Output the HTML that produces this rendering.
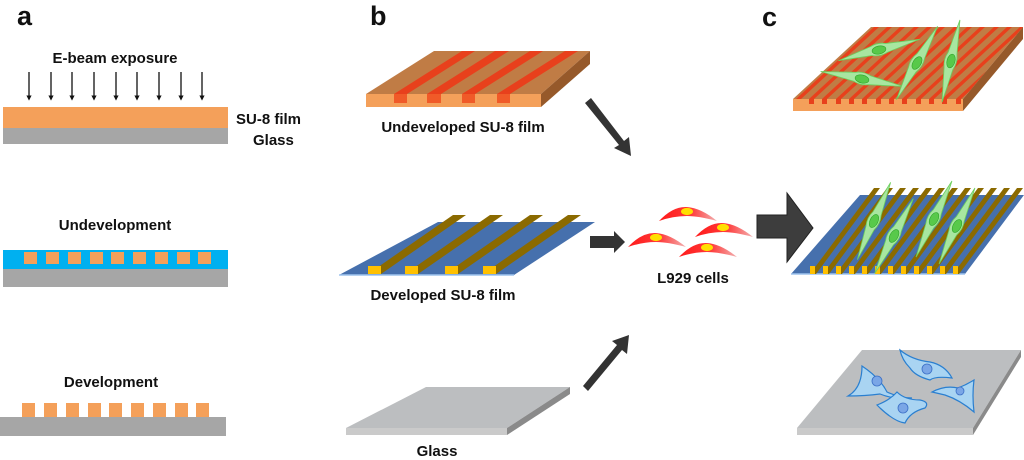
<!DOCTYPE html>
<html><head><meta charset="utf-8"><style>
html,body{margin:0;padding:0;background:#fff;}
svg{display:block;}
text{font-family:"Liberation Sans",Arial,sans-serif;font-weight:bold;fill:#111;}
</style></head><body>
<svg width="1024" height="460" viewBox="0 0 1024 460" xmlns="http://www.w3.org/2000/svg">
<defs>
<linearGradient id="rc" x1="0" x2="1" y1="0" y2="0">
<stop offset="0" stop-color="#ff1a1a"/><stop offset="0.55" stop-color="#ff3a3a"/><stop offset="1" stop-color="#f2b0b0"/>
</linearGradient>
<marker id="ah" markerWidth="4" markerHeight="4" refX="2" refY="2" orient="auto" markerUnits="strokeWidth"><path d="M0,0 L4,2 L0,4 Z" fill="#111"/></marker>
<clipPath id="ctop"><polygon points="793,99 963,99 1023,27 871,27"/></clipPath>
<clipPath id="btop"><polygon points="366,94 541,94 590,51 434,51"/></clipPath>
<g id="gcell">
<path d="M-42,2 L-8,-5 Q0,-8 8,-5 L42,-2 L8,4 Q0,7 -8,4 Z" fill="#a8e6a0" stroke="#6ccf5e" stroke-width="0.8"/>
<ellipse cx="0" cy="0" rx="7" ry="4" fill="#58c94a" stroke="#2fa52a" stroke-width="0.6"/>
</g>
<g id="rcell">
<path d="M-28,8 Q-14,-7 0,-6 Q14,-5 30,8 Q12,3 0,3 Q-14,3 -28,8 Z" fill="url(#rc)"/>
<ellipse cx="0" cy="-1.5" rx="6" ry="3.6" fill="#ffe000"/>
</g>
</defs>

<!-- Panel a -->
<text x="17" y="25" font-size="27">a</text>
<text x="115" y="63" font-size="15" text-anchor="middle">E-beam exposure</text>
<g stroke="#111" stroke-width="1.3" marker-end="url(#ah)">
<line x1="29" y1="72" x2="29" y2="98"/><line x1="51" y1="72" x2="51" y2="98"/><line x1="72" y1="72" x2="72" y2="98"/>
<line x1="94" y1="72" x2="94" y2="98"/><line x1="116" y1="72" x2="116" y2="98"/><line x1="137" y1="72" x2="137" y2="98"/>
<line x1="159" y1="72" x2="159" y2="98"/><line x1="181" y1="72" x2="181" y2="98"/><line x1="202" y1="72" x2="202" y2="98"/>
</g>
<rect x="3" y="107" width="225" height="21" fill="#f4a05a"/>
<rect x="3" y="128" width="225" height="16" fill="#a6a6a6"/>
<text x="236" y="124" font-size="15">SU-8 film</text>
<text x="253" y="145" font-size="15">Glass</text>

<text x="115" y="230" font-size="15" text-anchor="middle">Undevelopment</text>
<rect x="3" y="250" width="225" height="19" fill="#00b0f0"/>
<g fill="#f4a05a">
<rect x="24" y="252" width="13" height="12"/><rect x="46" y="252" width="13" height="12"/><rect x="68" y="252" width="13" height="12"/>
<rect x="90" y="252" width="13" height="12"/><rect x="111" y="252" width="13" height="12"/><rect x="133" y="252" width="13" height="12"/>
<rect x="155" y="252" width="13" height="12"/><rect x="177" y="252" width="13" height="12"/><rect x="198" y="252" width="13" height="12"/>
</g>
<rect x="3" y="269" width="225" height="18" fill="#a6a6a6"/>

<text x="111" y="387" font-size="15" text-anchor="middle">Development</text>
<g fill="#f4a05a">
<rect x="22" y="403" width="13" height="14"/><rect x="44" y="403" width="13" height="14"/><rect x="66" y="403" width="13" height="14"/>
<rect x="88" y="403" width="13" height="14"/><rect x="109" y="403" width="13" height="14"/><rect x="131" y="403" width="13" height="14"/>
<rect x="153" y="403" width="13" height="14"/><rect x="175" y="403" width="13" height="14"/><rect x="196" y="403" width="13" height="14"/>
</g>
<rect x="0" y="417" width="226" height="19" fill="#a6a6a6"/>

<!-- Panel b -->
<text x="370" y="25" font-size="27">b</text>
<polygon points="366,94 541,94 590,51 434,51" fill="#c07c45"/>
<g clip-path="url(#btop)" fill="#e8401c">
<polygon points="394,94 407,94 475,51 462,51"/>
<polygon points="427,94 441,94 509,51 495,51"/>
<polygon points="462,94 475,94 543,51 530,51"/>
<polygon points="497,94 510,94 578,51 565,51"/>
</g>
<rect x="366" y="94" width="175" height="13" fill="#f4a05a"/>
<g fill="#f05a28">
<rect x="394" y="94" width="13" height="9"/><rect x="427" y="94" width="14" height="9"/><rect x="462" y="94" width="13" height="9"/><rect x="497" y="94" width="13" height="9"/>
</g>
<polygon points="541,94 590,51 590,64 541,107" fill="#96592a"/>
<text x="463" y="132" font-size="15" text-anchor="middle">Undeveloped SU-8 film</text>

<polygon points="339,275 514,275 595,222 438,222" fill="#4670ad"/>
<line x1="339" y1="275" x2="514" y2="275" stroke="#9ec4ee" stroke-width="1.5"/>
<g fill="#8b6a00">
<polygon points="368,274 381,274 466,215 453,215"/>
<polygon points="405,274 418,274 503,215 490,215"/>
<polygon points="445,274 458,274 543,215 530,215"/>
<polygon points="483,274 496,274 581,215 568,215"/>
</g>
<g fill="#ffc000">
<rect x="368" y="266" width="13" height="8"/><rect x="405" y="266" width="13" height="8"/><rect x="445" y="266" width="13" height="8"/><rect x="483" y="266" width="13" height="8"/>
</g>
<text x="443" y="300" font-size="15" text-anchor="middle">Developed SU-8 film</text>

<polygon points="346,428 507,428 570,387 426,387" fill="#bcbec0"/>
<rect x="346" y="428" width="161" height="7" fill="#cacaca"/>
<polygon points="507,428 570,387 570,394 507,435" fill="#8a8a8a"/>
<text x="437" y="456" font-size="15" text-anchor="middle">Glass</text>

<!-- arrows b -->
<g fill="#333">
<polygon points="585,103 591,98 624,141 629,137 631,156 614,148 619,145"/>
<polygon points="590,236 614,236 614,231 625,242 614,253 614,248 590,248"/>
<polygon points="583,386 588,391 622,350 627,354 629,335 612,341 617,345"/>
</g>
<use href="#rcell" x="687" y="213"/>
<use href="#rcell" x="723" y="229"/>
<use href="#rcell" x="656" y="239"/>
<use href="#rcell" x="707" y="249"/>
<text x="693" y="283" font-size="15" text-anchor="middle">L929 cells</text>

<!-- big arrow -->
<polygon points="757,215 787,215 787,193 813,228 787,262 787,238 757,238" fill="#3d3d3d" stroke="#222" stroke-width="1"/>

<!-- Panel c -->
<text x="762" y="26" font-size="27">c</text>
<polygon points="793,99 963,99 1023,27 871,27" fill="#c07c45"/>
<g clip-path="url(#ctop)" fill="#e8401c">
<polygon points="809,99 814,99 892,27 887,27"/><polygon points="822,99 827,99 905,27 900,27"/>
<polygon points="836,99 841,99 919,27 914,27"/><polygon points="849,99 854,99 932,27 927,27"/>
<polygon points="862,99 867,99 945,27 940,27"/><polygon points="876,99 881,99 959,27 954,27"/>
<polygon points="889,99 894,99 972,27 967,27"/><polygon points="902,99 907,99 985,27 980,27"/>
<polygon points="916,99 921,99 999,27 994,27"/><polygon points="929,99 934,99 1012,27 1007,27"/>
<polygon points="942,99 947,99 1025,27 1020,27"/><polygon points="956,99 961,99 1039,27 1034,27"/>
<polygon points="796,99 801,99 879,27 874,27"/>
</g>
<rect x="793" y="99" width="170" height="12" fill="#f4a05a"/>
<g fill="#e8401c">
<rect x="809" y="99" width="5" height="5"/><rect x="822" y="99" width="5" height="5"/><rect x="836" y="99" width="5" height="5"/><rect x="849" y="99" width="5" height="5"/><rect x="862" y="99" width="5" height="5"/><rect x="876" y="99" width="5" height="5"/><rect x="889" y="99" width="5" height="5"/><rect x="902" y="99" width="5" height="5"/><rect x="916" y="99" width="5" height="5"/><rect x="929" y="99" width="5" height="5"/><rect x="942" y="99" width="5" height="5"/><rect x="956" y="99" width="5" height="5"/>
</g>
<polygon points="963,99 1023,27 1023,39 963,111" fill="#96592a"/>
<use href="#gcell" transform="translate(879,50) rotate(-12)"/>
<use href="#gcell" transform="translate(862,79) rotate(13)"/>
<use href="#gcell" transform="translate(917,63) rotate(-58)"/>
<use href="#gcell" transform="translate(951,61) rotate(-75)"/>

<polygon points="791,274 965,274 1024,195 860,195" fill="#4670ad"/>
<line x1="791" y1="274" x2="965" y2="274" stroke="#9ec4ee" stroke-width="1.5"/>
<g fill="#8b6a00">
<polygon points="810,274 816,274 880,188 874,188"/><polygon points="823,274 829,274 893,188 887,188"/>
<polygon points="836,274 842,274 906,188 900,188"/><polygon points="849,274 855,274 919,188 913,188"/>
<polygon points="862,274 868,274 932,188 926,188"/><polygon points="875,274 881,274 945,188 939,188"/>
<polygon points="888,274 894,274 958,188 952,188"/><polygon points="901,274 907,274 971,188 965,188"/>
<polygon points="914,274 920,274 984,188 978,188"/><polygon points="927,274 933,274 997,188 991,188"/>
<polygon points="940,274 946,274 1010,188 1004,188"/><polygon points="953,274 959,274 1023,188 1017,188"/>
</g>
<g fill="#ffc000">
<rect x="810" y="266" width="5" height="8"/><rect x="823" y="266" width="5" height="8"/><rect x="836" y="266" width="5" height="8"/><rect x="849" y="266" width="5" height="8"/><rect x="862" y="266" width="5" height="8"/><rect x="875" y="266" width="5" height="8"/><rect x="888" y="266" width="5" height="8"/><rect x="901" y="266" width="5" height="8"/><rect x="914" y="266" width="5" height="8"/><rect x="927" y="266" width="5" height="8"/><rect x="940" y="266" width="5" height="8"/><rect x="953" y="266" width="5" height="8"/>
</g>
<use href="#gcell" transform="translate(874,221) rotate(-64)"/>
<use href="#gcell" transform="translate(894,236) rotate(-60)"/>
<use href="#gcell" transform="translate(934,219) rotate(-62)"/>
<use href="#gcell" transform="translate(957,226) rotate(-62)"/>

<polygon points="797,428 973,428 1021,350 862,350" fill="#bcbec0"/>
<rect x="797" y="428" width="176" height="7" fill="#cacaca"/>
<polygon points="973,428 1021,350 1021,357 973,435" fill="#8a8a8a"/>
<g fill="#a9d4f2" stroke="#2a7fd0" stroke-width="1.2">
<path d="M862,366 Q880,378 887,392 Q900,398 912,398 Q895,400 880,394 Q865,396 848,396 Q862,388 862,366 Z"/>
<path d="M900,350 Q912,360 930,362 Q945,365 952,378 Q935,376 930,380 Q915,376 910,368 Q902,360 900,350 Z"/>
<path d="M932,392 Q945,385 958,388 Q966,385 974,380 Q972,395 974,412 Q960,400 945,395 Z"/>
<path d="M877,405 Q890,400 897,392 Q905,400 920,400 Q930,402 925,408 Q910,412 905,423 Q895,422 880,408 Z"/>
</g>
<g fill="#7aa6e6" stroke="#3b6fc6" stroke-width="0.8">
<circle cx="877" cy="381" r="5"/><circle cx="927" cy="369" r="5"/><circle cx="960" cy="391" r="4"/><circle cx="903" cy="408" r="5"/>
</g>
</svg>
</body></html>
